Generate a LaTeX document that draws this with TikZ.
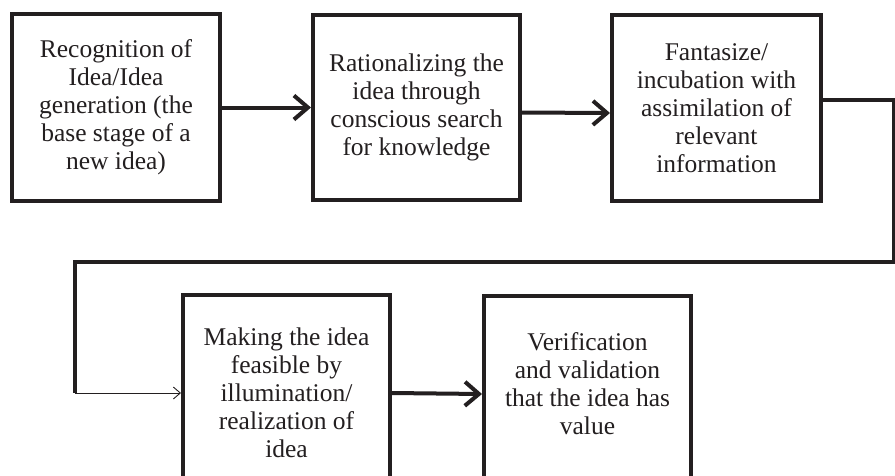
\documentclass[tikz,border=0pt]{standalone}
\usepackage{fontspec}
\setmainfont{Liberation Serif}
\usetikzlibrary{arrows.meta}
\definecolor{ink}{HTML}{231F20}
\begin{document}
\begin{tikzpicture}[x=1pt,y=-1pt,
  box/.style={draw=ink, line width=4pt, inner sep=0pt, align=center, text=ink,
    font=\fontsize{25.5}{28}\selectfont},
  txt/.style={inner sep=0pt, align=center, text=ink, font=\fontsize{25.5}{28}\selectfont},
  arr/.style={draw=ink, line width=4pt, -{Straight Barb[length=14pt,width=24pt,line width=4pt]}},
  thinarr/.style={draw=ink, line width=0.9pt, -{Straight Barb[length=7pt,width=12pt,line width=0.9pt]}},
  link/.style={draw=ink, line width=4pt}]
\useasboundingbox (0,0) rectangle (895,475);
\clip (0,0) rectangle (895,475);
\fill[white] (0,0) rectangle (895,475);

\node[box, minimum width=208pt, minimum height=187pt] (b1) at (116,107.5)
  {Recognition of\\Idea/Idea\\generation (the\\base stage of a\\new idea)};
\node[box, minimum width=207pt, minimum height=185pt] (b2) at (416.5,107.5)
  {Rationalizing the\\idea through\\conscious search\\for knowledge};
\node[box, minimum width=209pt, minimum height=186pt] (b3) at (716.5,108)
  {Fantasize/\\incubation with\\assimilation of\\relevant\\information};
\node[box, minimum width=207pt, minimum height=196pt] (b4) at (286.5,393)
  {Making the idea\\feasible by\\illumination/\\realization of\\idea};
\node[box, minimum width=207pt, minimum height=196pt] (b5) at (587.5,394) {};
\node[txt] (t5) at (587.5,384) {Verification\\and validation\\that the idea has\\value};

\draw[arr] (b1.east) -- (b2.west);
\draw[arr] ([yshift=-5pt]b2.east) -- ([yshift=-5pt]b3.west);
\coordinate (r1) at (894,100);
\coordinate (r2) at (894,262);
\coordinate (l1) at (75,262);
\coordinate (l2) at (75,393);
\draw[link] ([yshift=8pt]b3.east) -- (r1) -- (r2) -- (l1) -- (l2);
\draw[thinarr] (l2) -- (b4.west);
\draw[arr] (b4.east) -- (b5.west);
\end{tikzpicture}
\end{document}
